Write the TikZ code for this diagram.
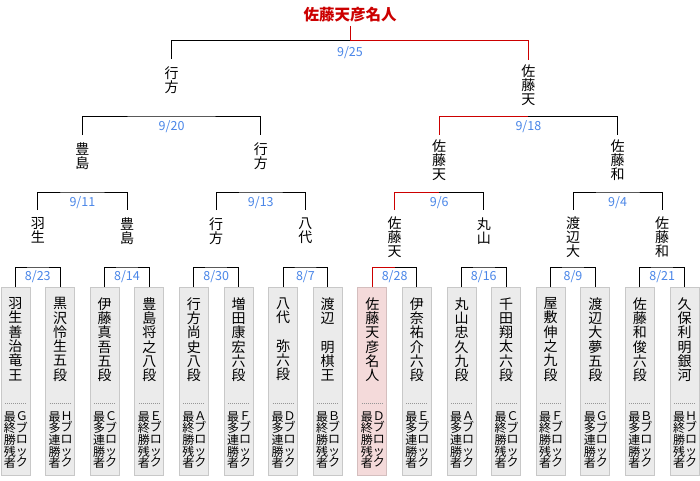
\documentclass[tikz,border=0pt]{standalone}
\usepackage{fontspec}
\usepackage{tikz}
\usetikzlibrary{positioning}
\usepackage{xcolor}
\newfontfamily\cjk{Noto Sans CJK JP}

\begin{document}
\begin{tikzpicture}[x=1pt, y=-1pt, line width=1pt,
	every node/.style={font=\cjk},
	pbox/.style={draw=boxline, fill=boxfill, minimum width=29pt, minimum height=188pt, anchor=north, inner sep=0pt},
	pboxwin/.style={pbox, draw=winline, fill=winfill},
	pname/.style={font=\cjk\fontsize{14}{14.3}\selectfont, align=center, anchor=north, inner sep=0pt},
	pnote/.style={font=\cjk\fontsize{12}{11.6}\selectfont, align=center, anchor=north, inner sep=0pt},
	daylabel/.style={font=\cjk\fontsize{12.5}{12.5}\selectfont, text=daycol, inner sep=0pt},
	dotline/.style={draw=sepline, line width=0.8pt, dash pattern=on 1pt off 1pt},
	redpath/.style={draw=wincol}]
		% Define colors
		\definecolor{boxfill}{RGB}{235, 235, 235}
		\definecolor{boxline}{RGB}{200, 200, 200}
		\definecolor{winfill}{RGB}{244, 218, 218}
		\definecolor{winline}{RGB}{212, 190, 190}
		\definecolor{wincol}{RGB}{204, 0, 0}
		\definecolor{daycol}{RGB}{74, 134, 232}
		\definecolor{sepline}{RGB}{150, 150, 150}
		
		\path[use as bounding box, fill=white] (0,0) rectangle (700,480);
		
		% one player card: name, x, style, full name, block, result
		\def\player#1#2#3#4#5#6{%
			\node[#3] (#1) at (#2,287) {};
			\node[pname, below=10pt of #1.north] (#1n) {#4};
			\draw[dotline] ([xshift=-10.5pt,yshift=-116pt]#1.north) -- ([xshift=10.5pt,yshift=-116pt]#1.north);
			\node[pnote, below=124pt of #1.north, xshift=6.5pt] (#1r) {#5};
			\node[pnote, below=124pt of #1.north, xshift=-5.5pt] (#1l) {#6};
		}
		\def\lastone{最\\終\\勝\\残\\者}
		\def\streak{最\\多\\連\\勝\\者}
		
		% BOTTOM ROW: PLAYER CARDS
		\player{p1}{15.5}{pbox}{羽\\生\\善\\治\\竜\\王}{Ｇ\\ブ\\ロ\\ッ\\ク}{\lastone}
		\player{p2}{60.1}{pbox}{黒\\沢\\怜\\生\\五\\段}{Ｈ\\ブ\\ロ\\ッ\\ク}{\streak}
		\player{p3}{104.7}{pbox}{伊\\藤\\真\\吾\\五\\段}{Ｃ\\ブ\\ロ\\ッ\\ク}{\streak}
		\player{p4}{149.3}{pbox}{豊\\島\\将\\之\\八\\段}{Ｅ\\ブ\\ロ\\ッ\\ク}{\lastone}
		\player{p5}{193.9}{pbox}{行\\方\\尚\\史\\八\\段}{Ａ\\ブ\\ロ\\ッ\\ク}{\lastone}
		\player{p6}{238.5}{pbox}{増\\田\\康\\宏\\六\\段}{Ｆ\\ブ\\ロ\\ッ\\ク}{\streak}
		\player{p7}{283.1}{pbox}{八\\代\\　\\弥\\六\\段}{Ｄ\\ブ\\ロ\\ッ\\ク}{\streak}
		\player{p8}{327.7}{pbox}{渡\\辺\\　\\明\\棋\\王}{Ｂ\\ブ\\ロ\\ッ\\ク}{\lastone}
		\player{p9}{372.3}{pboxwin}{佐\\藤\\天\\彦\\名\\人}{Ｄ\\ブ\\ロ\\ッ\\ク}{\lastone}
		\player{p10}{416.9}{pbox}{伊\\奈\\祐\\介\\六\\段}{Ｅ\\ブ\\ロ\\ッ\\ク}{\streak}
		\player{p11}{461.5}{pbox}{丸\\山\\忠\\久\\九\\段}{Ａ\\ブ\\ロ\\ッ\\ク}{\streak}
		\player{p12}{506.1}{pbox}{千\\田\\翔\\太\\六\\段}{Ｃ\\ブ\\ロ\\ッ\\ク}{\lastone}
		\player{p13}{550.7}{pbox}{屋\\敷\\伸\\之\\九\\段}{Ｆ\\ブ\\ロ\\ッ\\ク}{\lastone}
		\player{p14}{595.3}{pbox}{渡\\辺\\大\\夢\\五\\段}{Ｇ\\ブ\\ロ\\ッ\\ク}{\streak}
		\player{p15}{639.9}{pbox}{佐\\藤\\和\\俊\\六\\段}{Ｂ\\ブ\\ロ\\ッ\\ク}{\streak}
		\player{p16}{684.5}{pbox}{久\\保\\利\\明\\銀\\河}{Ｈ\\ブ\\ロ\\ッ\\ク}{\lastone}
		
		% ROUND 1 (August)
		\coordinate (b823) at (37.8,267);
		\coordinate (b814) at (127.0,267);
		\coordinate (b830) at (216.2,267);
		\coordinate (b807) at (305.4,267);
		\coordinate (b828) at (394.6,267);
		\coordinate (b816) at (483.8,267);
		\coordinate (b809) at (573.0,267);
		\coordinate (b821) at (662.2,267);
		\node[daylabel] (d823) at (37.8,277) {8/23};
		\node[daylabel] (d814) at (127.0,277) {8/14};
		\node[daylabel] (d830) at (216.2,277) {8/30};
		\node[daylabel] (d807) at (305.4,277) {8/7};
		\node[daylabel] (d828) at (394.6,277) {8/28};
		\node[daylabel] (d816) at (483.8,277) {8/16};
		\node[daylabel] (d809) at (573.0,277) {8/9};
		\node[daylabel] (d821) at (662.2,277) {8/21};
		\draw (p1.north) |- (b823) -| (p2.north);
		\draw (p3.north) |- (b814) -| (p4.north);
		\draw (p5.north) |- (b830) -| (p6.north);
		\draw (p7.north) |- (b807) -| (p8.north);
		\draw[redpath] (p9.north) |- (b828);
		\draw (b828) -| (p10.north);
		\draw (p11.north) |- (b816) -| (p12.north);
		\draw (p13.north) |- (b809) -| (p14.north);
		\draw (p15.north) |- (b821) -| (p16.north);
		
		\node[pname] (w823) at (37.8,217) {羽\\生};
		\node[pname] (w814) at (127.0,217) {豊\\島};
		\node[pname] (w830) at (216.2,217) {行\\方};
		\node[pname] (w807) at (305.4,217) {八\\代};
		\node[pname] (w828) at (394.6,216) {佐\\藤\\天};
		\node[pname] (w816) at (483.8,217) {丸\\山};
		\node[pname] (w809) at (573.0,216) {渡\\辺\\大};
		\node[pname] (w821) at (662.2,216) {佐\\藤\\和};
		
		% ROUND 2
		\coordinate (b911) at (82.4,192);
		\coordinate (b913) at (260.8,192);
		\coordinate (b906) at (439.2,192);
		\coordinate (b904) at (617.6,192);
		\node[daylabel] (d911) at (82.4,203) {9/11};
		\node[daylabel] (d913) at (260.8,203) {9/13};
		\node[daylabel] (d906) at (439.2,203) {9/6};
		\node[daylabel] (d904) at (617.6,203) {9/4};
		\draw ([yshift=7pt]w823.north) |- (b911) -| ([yshift=7pt]w814.north);
		\draw ([yshift=7pt]w830.north) |- (b913) -| ([yshift=7pt]w807.north);
		\draw[redpath] ([yshift=6pt]w828.north) |- (b906);
		\draw (b906) -| ([yshift=7pt]w816.north);
		\draw ([yshift=6pt]w809.north) |- (b904) -| ([yshift=6pt]w821.north);
		
		\node[pname] (w911) at (82.4,142) {豊\\島};
		\node[pname] (w913) at (260.8,142) {行\\方};
		\node[pname] (w906) at (439.2,139) {佐\\藤\\天};
		\node[pname] (w904) at (617.6,139) {佐\\藤\\和};
		
		% ROUND 3
		\coordinate (b920) at (171.6,116);
		\coordinate (b918) at (528.4,116);
		\node[daylabel] (d920) at (171.6,127) {9/20};
		\node[daylabel] (d918) at (528.4,127) {9/18};
		\draw ([yshift=7pt]w911.north) |- (b920) -| ([yshift=7pt]w913.north);
		\draw[redpath] ([yshift=4pt]w906.north) |- (b918);
		\draw (b918) -| ([yshift=4pt]w904.north);
		
		\node[pname] (w920) at (171.6,66) {行\\方};
		\node[pname] (w918) at (528.4,64) {佐\\藤\\天};
		
		% FINAL
		\coordinate (b925) at (350,40);
		\node[daylabel] (d925) at (350,53) {9/25};
		\draw ([yshift=7pt]w920.north) |- (b925);
		\draw[redpath] (b925) -| ([yshift=4pt]w918.north);
		
		\node[font=\cjk\bfseries\fontsize{15.5}{15.5}\selectfont, text=wincol, inner sep=0pt] (champ) at (350,15) {佐藤天彦名人};
		\draw[redpath] ([yshift=-3pt]champ.south) -- (b925);
		
	\end{tikzpicture}
\end{document}
